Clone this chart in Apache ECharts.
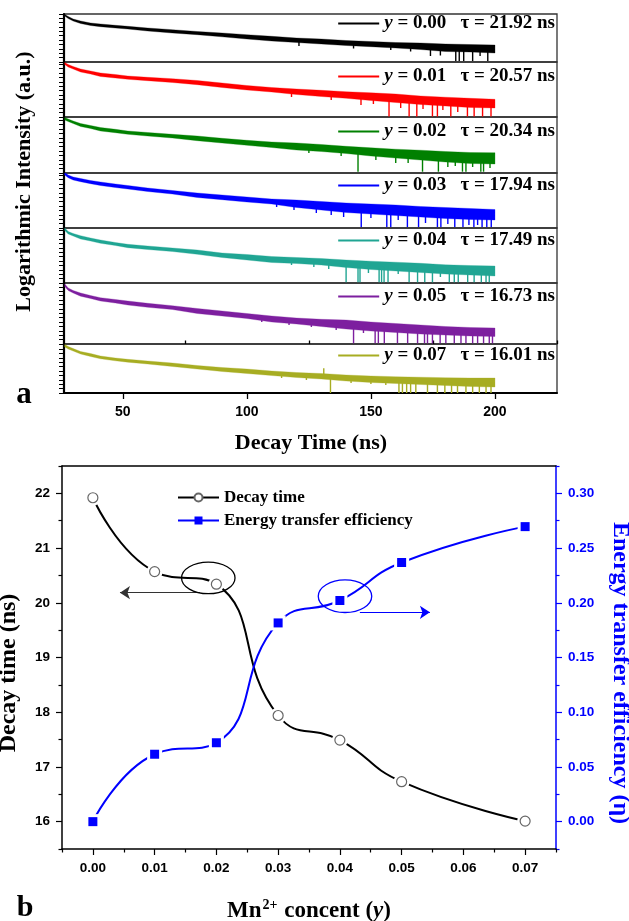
<!DOCTYPE html>
<html>
<head>
<meta charset="utf-8">
<script src="https://cdn.jsdelivr.net/npm/echarts@6/dist/echarts.min.js"></script>
<style>
  html, body { margin: 0; padding: 0; background: #fff; }
  #chart { width: 629px; height: 921px; }
</style>
</head>
<body>
<div id="chart"></div>
<script>
// ---------- Panel a: photoluminescence decay curves (log intensity, a.u.) ----------
const decayTimes = [26.6, 28, 30, 33, 37, 41, 47, 52, 60, 70, 80, 90, 100, 110, 120, 130, 140, 150, 160, 170, 180, 190, 200];
const mnLevels = ['0.00', '0.01', '0.02', '0.03', '0.04', '0.05', '0.07'];
const lifetimes = ['21.92', '20.57', '20.34', '17.94', '17.49', '16.73', '16.01'];

// upper / lower edge of the noisy trace at each decay time, plus isolated noise spikes [time, reach]
const upper000 = [4.75, 4.55, 4.3, 4.1, 3.9, 3.8, 3.67, 3.57, 3.4, 3.23, 3.05, 2.9, 2.73, 2.57, 2.4, 2.3, 2.15, 2.05, 1.95, 1.9, 1.8, 1.75, 1.7];
const lower000 = [4.6, 4.35, 4.1, 3.85, 3.65, 3.53, 3.4, 3.3, 3.1, 2.9, 2.73, 2.52, 2.3, 2.1, 1.95, 1.8, 1.65, 1.53, 1.4, 1.25, 1.05, 1.0, 0.9];
const spikes000 = [[121, 1.6], [143, 1.35], [158, 1.2], [166, 1.05], [174, 0.6], [178, 0.65], [184.2, 0.1], [185.6, 0.1], [187.4, 0.1], [191.0, 0.1], [194, 0.6], [197.1, 0.1]];

const upper001 = [5.45, 5.25, 5.05, 4.8, 4.6, 4.4, 4.25, 4.1, 3.97, 3.83, 3.65, 3.4, 3.15, 2.95, 2.8, 2.67, 2.53, 2.42, 2.3, 2.1, 1.98, 1.87, 1.77];
const lower001 = [5.25, 5.0, 4.8, 4.5, 4.3, 4.05, 3.9, 3.77, 3.63, 3.45, 3.23, 2.95, 2.7, 2.5, 2.25, 2.05, 1.87, 1.65, 1.45, 1.25, 1.1, 0.95, 0.9];
const spikes001 = [[118, 2.0], [134, 1.7], [146, 1.2], [151, 1.3], [157.3, 0.05], [162, 0.9], [165.4, 0.05], [168.5, 0.05], [171, 0.8], [174.8, 0.05], [176.8, 0.05], [179, 0.7], [182.2, 0.05], [185, 0.5], [188.9, 0.05], [191.6, 0.05], [195.0, 0.05], [198.4, 0.05]];

const upper002 = [5.55, 5.4, 5.2, 4.95, 4.75, 4.55, 4.37, 4.2, 4.05, 3.87, 3.7, 3.47, 3.27, 3.1, 3.0, 2.85, 2.67, 2.52, 2.38, 2.28, 2.15, 2.05, 2.03];
const lower002 = [5.3, 5.15, 4.95, 4.65, 4.45, 4.2, 4.03, 3.87, 3.7, 3.5, 3.23, 3.0, 2.77, 2.55, 2.3, 2.15, 1.95, 1.7, 1.5, 1.3, 1.1, 0.95, 0.9];
const spikes002 = [[125, 2.0], [138, 1.7], [144.8, 0.13], [152, 1.3], [160, 1.0], [165, 1.0], [170.8, 0.13], [177.2, 0.13], [181, 0.6], [184, 0.7], [186.9, 0.13], [188.3, 0.13], [191, 0.6], [194.3, 0.13], [195.4, 0.13], [198, 0.5]];

const upper003 = [5.55, 5.3, 5.1, 4.95, 4.75, 4.6, 4.4, 4.25, 4.0, 3.75, 3.5, 3.3, 3.1, 2.9, 2.8, 2.65, 2.5, 2.4, 2.3, 2.15, 2.05, 1.95, 1.85];
const lower003 = [5.3, 5.03, 4.8, 4.63, 4.43, 4.25, 4.05, 3.9, 3.65, 3.4, 3.05, 2.83, 2.6, 2.4, 2.05, 1.8, 1.55, 1.4, 1.25, 1.1, 0.95, 0.85, 0.8];
const spikes003 = [[112, 2.1], [119, 1.8], [128, 1.5], [134, 1.3], [139, 1.1], [146.1, 0.1], [150, 1.0], [156.4, 0.1], [158, 0.1], [161, 0.8], [164.7, 0.1], [169.2, 0.1], [172, 0.5], [176.8, 0.1], [178.2, 0.1], [181, 0.4], [183.8, 0.1], [187.1, 0.1], [189.5, 0.3], [191.5, 0.1], [193, 0.3], [194.8, 0.1], [196.7, 0.1], [198.5, 0.1]];

const upper004 = [5.5, 5.15, 4.95, 4.73, 4.5, 4.3, 4.05, 3.87, 3.7, 3.5, 3.3, 3.0, 2.85, 2.65, 2.55, 2.45, 2.3, 2.18, 2.08, 1.97, 1.82, 1.75, 1.7];
const lower004 = [5.25, 4.9, 4.7, 4.4, 4.2, 3.97, 3.75, 3.53, 3.35, 3.15, 2.87, 2.55, 2.3, 2.05, 1.95, 1.8, 1.55, 1.35, 1.2, 1.05, 0.9, 0.8, 0.7];
const spikes004 = [[118, 1.8], [127, 1.6], [133, 1.4], [140, 0.07], [144.8, 0.07], [145.6, 0.07], [149, 1.0], [153.3, 0.07], [154.3, 0.07], [155.3, 0.07], [156.9, 0.07], [161, 0.9], [165.4, 0.07], [168.8, 0.07], [171.7, 0.07], [174.8, 0.07], [178, 0.6], [181.6, 0.07], [183.6, 0.07], [185.2, 0.07], [189, 0.07], [191.6, 0.07], [194.5, 0.07], [196.4, 0.07], [197.7, 0.07]];

const upper005 = [6.0, 5.6, 5.35, 5.1, 4.85, 4.63, 4.45, 4.3, 4.07, 3.83, 3.55, 3.3, 3.05, 2.8, 2.6, 2.47, 2.4, 2.2, 2.05, 1.9, 1.75, 1.65, 1.6];
const lower005 = [5.75, 5.35, 5.1, 4.78, 4.55, 4.3, 4.1, 3.9, 3.67, 3.45, 3.05, 2.8, 2.55, 2.2, 2.0, 1.75, 1.5, 1.3, 1.15, 1.0, 0.9, 0.8, 0.75];
const spikes005 = [[106, 2.2], [117, 1.9], [126, 1.7], [136, 1.4], [143, 0.07], [147, 1.1], [151.7, 0.07], [153, 0.07], [155.4, 0.07], [160.7, 0.07], [164.8, 0.07], [168.8, 0.07], [171.6, 0.07], [172.8, 0.07], [174.8, 0.07], [177.9, 0.07], [180.2, 0.07], [183.6, 0.07], [186.3, 0.07], [188.3, 0.07], [191, 0.07], [193, 0.07], [195.4, 0.07], [197.7, 0.07], [199, 0.07]];

const upper007 = [4.85, 4.65, 4.45, 4.15, 3.95, 3.7, 3.5, 3.37, 3.2, 3.0, 2.75, 2.55, 2.4, 2.2, 2.05, 1.95, 1.8, 1.7, 1.63, 1.58, 1.53, 1.5, 1.5];
const lower007 = [4.6, 4.4, 4.2, 3.9, 3.65, 3.42, 3.22, 3.08, 2.9, 2.65, 2.4, 2.15, 1.95, 1.75, 1.55, 1.4, 1.2, 1.05, 0.95, 0.85, 0.75, 0.65, 0.6];
const spikes007 = [[114, 1.5], [124, 1.3], [131, 2.47], [133.7, 0.0], [142, 1.0], [150, 0.9], [156, 0.8], [161.3, 0.0], [162.7, 0.0], [164.4, 0.0], [166, 0.0], [168.1, 0.0], [172.8, 0.0], [176.8, 0.0], [179.8, 0.0], [182.5, 0.0], [184.9, 0.0], [188.3, 0.0], [191, 0.0], [193.7, 0.0], [196.4, 0.0], [198.4, 0.0]];

// ---------- Panel b: lifetime and energy-transfer efficiency vs Mn2+ content ----------
const mnContent = [0.00, 0.01, 0.02, 0.03, 0.04, 0.05, 0.07];
const decayTime = [21.92, 20.57, 20.34, 17.94, 17.49, 16.73, 16.01];
const transferEfficiency = [0.0000, 0.0616, 0.0721, 0.1816, 0.2021, 0.2368, 0.2696];
const xTicksB = [0.00, 0.01, 0.02, 0.03, 0.04, 0.05, 0.06, 0.07];
const leftTicksB = [16, 17, 18, 19, 20, 21, 22];
const rightTicksB = [0.00, 0.05, 0.10, 0.15, 0.20, 0.25, 0.30];
const xTicksA = [50, 100, 150, 200];

// ---------- layout & style ----------
const SERIF = '"Liberation Serif", "Times New Roman", serif';
const SANS = '"Liberation Sans", Arial, sans-serif';
const curveColors = ['#000000', '#ff0000', '#008000', '#0000ff', '#20a593', '#7d1f9f', '#a7ad22'];
const curveUpper = [upper000, upper001, upper002, upper003, upper004, upper005, upper007];
const curveLower = [lower000, lower001, lower002, lower003, lower004, lower005, lower007];
const curveSpikes = [spikes000, spikes001, spikes002, spikes003, spikes004, spikes005, spikes007];
const panelTops = [14, 62, 117, 173, 228, 283, 344];
const panelHeights = [48, 55, 56, 55, 55, 61, 49];
const panelYMax = [4.8, 5.5, 5.6, 5.5, 5.5, 6.1, 4.9];
const legendCenters = [25, 78, 133, 187, 242, 298, 357];

// annotation callouts in panel b (data coordinates)
const decayCallout = { ellipse: [0.01869, 20.455, 0.00433, 0.289], arrowFrom: [0.01734, 20.185], arrowTo: [0.00439, 20.185] };
const effCallout = { ellipse: [0.04083, 0.206, 0.00433, 0.0149], arrowFrom: [0.04324, 0.1913], arrowTo: [0.05458, 0.1913] };

const curveNames = mnLevels.map((m, i) => 'y = ' + m + '   \u03c4 = ' + lifetimes[i] + ' ns');

const grids = [];
const xAxes = [];
const yAxes = [];
const series = [];
const legends = [];

for (let i = 0; i < 7; i++) {
  grids.push({ left: 64, right: 72, top: panelTops[i], height: panelHeights[i], show: true, borderColor: '#333', borderWidth: 1.3 });
  const last = i === 6;
  xAxes.push({
    gridIndex: i, type: 'value', min: 26.3, max: 225, show: last,
    axisLine: { show: true, onZero: false, lineStyle: { color: '#000', width: 2 } },
    axisTick: { show: true, customValues: xTicksA, length: 6, inside: false, lineStyle: { color: '#000', width: 1.3 } },
    axisLabel: { show: true, customValues: xTicksA, fontFamily: SANS, fontWeight: 'bold', fontSize: 14, color: '#000', margin: 12 },
    splitLine: { show: false }
  });
  yAxes.push({
    gridIndex: i, type: 'value', min: 0, max: panelYMax[i], interval: 0.44,
    axisLine: { show: true, onZero: false, lineStyle: { color: '#000', width: 2.2 } },
    axisTick: { show: true, length: 5, inside: false, lineStyle: { color: '#000', width: 1 } },
    axisLabel: { show: false },
    splitLine: { show: false }
  });

  const color = curveColors[i];
  const up = curveUpper[i];
  const lo = curveLower[i];
  series.push({
    type: 'custom', name: curveNames[i], xAxisIndex: i, yAxisIndex: i, clip: true,
    itemStyle: { color: color },
    data: [[decayTimes[0], up[0]]],
    renderItem: function (params, api) {
      const pts = [];
      for (let k = 0; k < decayTimes.length; k++) pts.push(api.coord([decayTimes[k], up[k]]));
      for (let k = decayTimes.length - 1; k >= 0; k--) pts.push(api.coord([decayTimes[k], lo[k]]));
      return { type: 'polygon', shape: { points: pts }, style: { fill: color, stroke: color, lineWidth: 0.3 } };
    }
  });
  series.push({
    type: 'custom', xAxisIndex: i, yAxisIndex: i, clip: true,
    itemStyle: { color: color },
    data: curveSpikes[i],
    renderItem: function (params, api) {
      const t = api.value(0);
      const reach = api.value(1);
      let k = decayTimes.findIndex(v => v >= t);
      if (k < 0) k = decayTimes.length - 1;
      const mid = (up[k] + lo[k]) / 2;
      const p1 = api.coord([t, reach]);
      const p2 = api.coord([t, mid]);
      return { type: 'line', shape: { x1: p1[0], y1: p1[1], x2: p2[0], y2: p2[1] }, style: { stroke: color, lineWidth: 1.4 } };
    }
  });
  legends.push({
    data: [curveNames[i]], right: 74, top: legendCenters[i] - 11, padding: 0,
    selectedMode: false, icon: 'rect', itemWidth: 41, itemHeight: 2,
    formatter: function (name) { return '{iy|y}{t|' + name.slice(1) + '}'; },
    textStyle: {
      fontFamily: SERIF, fontWeight: 'bold', fontSize: 19, color: '#000',
      rich: {
        iy: { fontFamily: SERIF, fontWeight: 'bold', fontStyle: 'italic', fontSize: 19, color: '#000' },
        t: { fontFamily: SERIF, fontWeight: 'bold', fontSize: 19, color: '#000' }
      }
    }
  });
}
// minor ticks of the decay-time axis
xAxes.push({
  gridIndex: 6, type: 'value', min: 26.3, max: 225,
  axisLine: { show: false, onZero: false },
  axisTick: { show: true, customValues: [75, 125, 175, 225], length: 3.5, inside: false, lineStyle: { color: '#000', width: 1.3 } },
  axisLabel: { show: false }, splitLine: { show: false }
});

// panel b grid & axes
grids.push({ left: 62, right: 73, top: 466, bottom: 72 });
const BX = xAxes.length;
xAxes.push({
  gridIndex: 7, type: 'value', min: -0.005, max: 0.075, position: 'bottom',
  axisLine: { show: true, onZero: false, lineStyle: { color: '#000', width: 1.5 } },
  axisTick: { show: true, customValues: xTicksB, length: 6, inside: false, lineStyle: { color: '#000', width: 1.2 } },
  axisLabel: { show: true, customValues: xTicksB, formatter: v => v.toFixed(2), fontFamily: SANS, fontWeight: 'bold', fontSize: 13.5, color: '#000', margin: 12 },
  splitLine: { show: false }
});
xAxes.push({
  gridIndex: 7, type: 'value', min: -0.005, max: 0.075, position: 'bottom',
  axisLine: { show: false, onZero: false },
  axisTick: { show: true, customValues: [-0.005, 0.005, 0.015, 0.025, 0.035, 0.045, 0.055, 0.065, 0.075], length: 3.5, inside: false, lineStyle: { color: '#000', width: 1.2 } },
  axisLabel: { show: false }, splitLine: { show: false }
});
xAxes.push({
  gridIndex: 7, type: 'value', min: -0.005, max: 0.075, position: 'top',
  axisLine: { show: true, onZero: false, lineStyle: { color: '#000', width: 1.5 } },
  axisTick: { show: false }, axisLabel: { show: false }, splitLine: { show: false }
});

const BY = yAxes.length;
yAxes.push({
  gridIndex: 7, type: 'value', min: 15.5, max: 22.5, position: 'left', offset: 0,
  axisLine: { show: true, onZero: false, lineStyle: { color: '#000', width: 1.5 } },
  axisTick: { show: true, customValues: leftTicksB, length: 6, inside: false, lineStyle: { color: '#000', width: 1.2 } },
  axisLabel: { show: true, customValues: leftTicksB, fontFamily: SANS, fontWeight: 'bold', fontSize: 13.5, color: '#000', margin: 12 },
  splitLine: { show: false }
});
yAxes.push({
  gridIndex: 7, type: 'value', min: 15.5, max: 22.5, position: 'left', offset: 0,
  axisLine: { show: false, onZero: false },
  axisTick: { show: true, customValues: [15.5, 16.5, 17.5, 18.5, 19.5, 20.5, 21.5, 22.5], length: 3.5, inside: false, lineStyle: { color: '#000', width: 1.2 } },
  axisLabel: { show: false }, splitLine: { show: false }
});
yAxes.push({
  gridIndex: 7, type: 'value', min: -0.025, max: 0.325, position: 'right', offset: 0,
  axisLine: { show: true, onZero: false, lineStyle: { color: '#0000ff', width: 1.5 } },
  axisTick: { show: true, customValues: rightTicksB, length: 6, inside: false, lineStyle: { color: '#0000ff', width: 1.2 } },
  axisLabel: { show: true, customValues: rightTicksB, formatter: v => v.toFixed(2), fontFamily: SANS, fontWeight: 'bold', fontSize: 13.5, color: '#0000ff', margin: 12 },
  splitLine: { show: false }
});
yAxes.push({
  gridIndex: 7, type: 'value', min: -0.025, max: 0.325, position: 'right', offset: 0,
  axisLine: { show: false, onZero: false },
  axisTick: { show: true, customValues: [-0.025, 0.025, 0.075, 0.125, 0.175, 0.225, 0.275, 0.325], length: 3.5, inside: false, lineStyle: { color: '#0000ff', width: 1.2 } },
  axisLabel: { show: false }, splitLine: { show: false }
});

const decayPairs = mnContent.map((x, k) => [x, decayTime[k]]);
const effPairs = mnContent.map((x, k) => [x, transferEfficiency[k]]);

function ellipseSeries(callout, yIndex, color) {
  return {
    type: 'custom', xAxisIndex: BX, yAxisIndex: yIndex, z: 5, silent: true,
    data: [callout.ellipse],
    renderItem: function (params, api) {
      const c = api.coord([api.value(0), api.value(1)]);
      const s = api.size([api.value(2), api.value(3)]);
      return { type: 'ellipse', shape: { cx: c[0], cy: c[1], rx: s[0], ry: s[1] }, style: { fill: 'none', stroke: color, lineWidth: 1.3 } };
    }
  };
}

function arrowLine(callout, color) {
  return {
    silent: true, symbol: ['none', 'arrow'], symbolSize: [10, 10], label: { show: false },
    lineStyle: { color: color, width: 1, type: 'solid' },
    emphasis: { disabled: true },
    data: [[{ coord: callout.arrowFrom }, { coord: callout.arrowTo }]]
  };
}

series.push(
  {
    type: 'line', name: 'Decay time', xAxisIndex: BX, yAxisIndex: BY, z: 2,
    data: decayPairs, smooth: true, showSymbol: false, symbol: 'circle',
    itemStyle: { color: '#fff', borderColor: '#666', borderWidth: 1.2 },
    lineStyle: { color: '#000', width: 2 },
    markLine: arrowLine(decayCallout, '#333')
  },
  { type: 'scatter', xAxisIndex: BX, yAxisIndex: BY, z: 3, silent: true, data: decayPairs, symbol: 'circle', symbolSize: 16, itemStyle: { color: '#fff', opacity: 1 } },
  { type: 'scatter', xAxisIndex: BX, yAxisIndex: BY, z: 4, silent: true, data: decayPairs, symbol: 'circle', symbolSize: 10, itemStyle: { color: '#fff', borderColor: '#666', borderWidth: 1.2, opacity: 1 } },
  {
    type: 'line', name: 'Energy transfer efficiency', xAxisIndex: BX, yAxisIndex: BY + 2, z: 2,
    data: effPairs, smooth: true, showSymbol: false, symbol: 'rect',
    itemStyle: { color: '#0000ff' },
    lineStyle: { color: '#0000ff', width: 2 },
    markLine: arrowLine(effCallout, '#0000ff')
  },
  { type: 'scatter', xAxisIndex: BX, yAxisIndex: BY + 2, z: 3, silent: true, data: effPairs, symbol: 'rect', symbolSize: 15, itemStyle: { color: '#fff', opacity: 1 } },
  { type: 'scatter', xAxisIndex: BX, yAxisIndex: BY + 2, z: 4, silent: true, data: effPairs, symbol: 'rect', symbolSize: 9, itemStyle: { color: '#0000ff', opacity: 1 } },
  ellipseSeries(decayCallout, BY, '#000'),
  ellipseSeries(effCallout, BY + 2, '#0000ff')
);

legends.push({
  data: ['Decay time', 'Energy transfer efficiency'], orient: 'vertical', left: 177, top: 489, padding: 0,
  selectedMode: false, itemWidth: 41, itemHeight: 10, itemGap: 6,
  textStyle: { fontFamily: SERIF, fontWeight: 'bold', fontSize: 17, color: '#000' }
});

const titleFont = 'bold 22px ' + SERIF;
const graphics = [
  { type: 'text', x: 24.5, y: 181.5, rotation: Math.PI / 2, style: { text: 'Logarithmic Intensity (a.u.)', font: titleFont, fill: '#000', align: 'center', verticalAlign: 'middle' } },
  { type: 'text', x: 311, y: 443, style: { text: 'Decay Time (ns)', font: titleFont, fill: '#000', align: 'center', verticalAlign: 'middle' } },
  { type: 'text', x: 24, y: 395, style: { text: 'a', font: 'bold 31px ' + SERIF, fill: '#000', align: 'center', verticalAlign: 'middle' } },
  { type: 'text', x: 25, y: 908, style: { text: 'b', font: 'bold 30px ' + SERIF, fill: '#000', align: 'center', verticalAlign: 'middle' } },
  { type: 'text', x: 9, y: 673, rotation: Math.PI / 2, style: { text: 'Decay time (ns)', font: 'bold 24px ' + SERIF, fill: '#000', align: 'center', verticalAlign: 'middle' } },
  { type: 'text', x: 620, y: 673, rotation: -Math.PI / 2, style: { text: 'Energy transfer efficiency (\u03b7)', font: 'bold 24px ' + SERIF, fill: '#0000ff', align: 'center', verticalAlign: 'middle' } },
  { type: 'text', x: 309, y: 911, style: {
      text: '{b|Mn}{s|2+}{b| concent (}{i|y}{b|)}', align: 'center', verticalAlign: 'middle',
      rich: {
        b: { fontFamily: SERIF, fontWeight: 'bold', fontSize: 23, fill: '#000', color: '#000', lineHeight: 26 },
        s: { fontFamily: SERIF, fontWeight: 'bold', fontSize: 14, fill: '#000', color: '#000', lineHeight: 26, verticalAlign: 'top', padding: [0, 1, 10, 1] },
        i: { fontFamily: SERIF, fontWeight: 'bold', fontStyle: 'italic', fontSize: 23, fill: '#000', color: '#000', lineHeight: 26 }
      }
  } }
];

const chart = echarts.init(document.getElementById('chart'));
chart.setOption({
  animation: false,
  backgroundColor: '#fff',
  grid: grids,
  xAxis: xAxes,
  yAxis: yAxes,
  legend: legends,
  series: series,
  graphic: graphics
});
</script>
</body>
</html>
